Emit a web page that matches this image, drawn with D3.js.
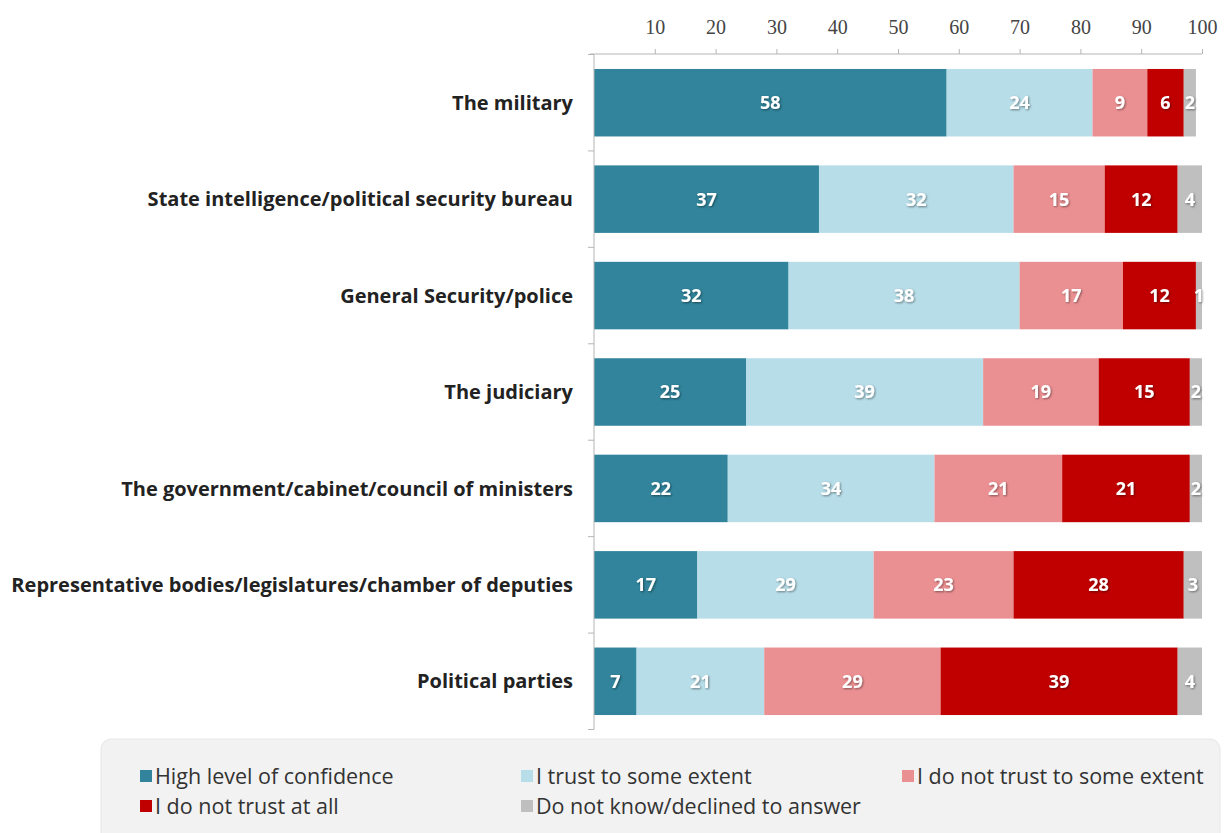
<!DOCTYPE html>
<html>
<head>
<meta charset="utf-8">
<script src="https://cdn.jsdelivr.net/npm/d3@7"></script>
<style>
  html, body { margin: 0; padding: 0; background: #fff; }
  svg { display: block; }
</style>
</head>
<body>
<svg id="chart" width="1231" height="833"></svg>
<script>
// Institutions, top to bottom
const categories = [
  "The military",
  "State intelligence/political security bureau",
  "General Security/police",
  "The judiciary",
  "The government/cabinet/council of ministers",
  "Representative bodies/legislatures/chamber of deputies",
  "Political parties"
];

// Response shares (%) per institution, in category order
const highConfidence   = [58, 37, 32, 25, 22, 17, 7];
const trustSomeExtent  = [24, 32, 38, 39, 34, 29, 21];
const distrustSome     = [9, 15, 17, 19, 21, 23, 29];
const distrustAtAll    = [6, 12, 12, 15, 21, 28, 39];
const dontKnow         = [2, 4, 1, 2, 2, 3, 4];

const seriesNames = [
  "High level of confidence",
  "I trust to some extent",
  "I do not trust to some extent",
  "I do not trust at all",
  "Do not know/declined to answer"
];
const seriesValues = [highConfidence, trustSomeExtent, distrustSome, distrustAtAll, dontKnow];
const seriesColors = ["#31849b", "#b7dde8", "#eb9092", "#c00000", "#bfbfbf"];

const tickValues = [10, 20, 30, 40, 50, 60, 70, 80, 90, 100];

const svg = d3.select("#chart");

const defs = svg.append("defs");
const shadow = defs.append("filter").attr("id", "lblShadow")
  .attr("x", "-20%").attr("y", "-20%").attr("width", "140%").attr("height", "140%");
shadow.append("feDropShadow")
  .attr("dx", 1).attr("dy", 1).attr("stdDeviation", 0.8)
  .attr("flood-color", "#000").attr("flood-opacity", 0.45);

const x = d3.scaleLinear().domain([0, 100]).range([594, 1202]);
const y = d3.scaleBand().domain(categories).range([54.5, 729.5])
  .paddingInner(0.3).paddingOuter(0.15);

// Stack rows
const rows = categories.map((c, i) => {
  const r = { category: c };
  seriesNames.forEach((s, k) => { r[s] = seriesValues[k][i]; });
  return r;
});
const stacked = d3.stack().keys(seriesNames)(rows);

// Bars
const layers = svg.append("g").selectAll("g")
  .data(stacked).join("g")
  .attr("fill", (d, k) => seriesColors[k]);

layers.selectAll("rect")
  .data(d => d.map(p => ({ p, key: d.key })))
  .join("rect")
  .attr("x", d => x(d.p[0]))
  .attr("y", d => y(d.p.data.category))
  .attr("width", d => x(d.p[1]) - x(d.p[0]))
  .attr("height", y.bandwidth());

// Value labels
const labels = svg.append("g")
  .attr("font-family", "'Open Sans', sans-serif")
  .attr("font-weight", 700)
  .attr("font-size", 18)
  .attr("fill", "#fff")
  .attr("text-anchor", "middle")
  .attr("filter", "url(#lblShadow)");

stacked.forEach(layer => {
  layer.forEach(p => {
    labels.append("text")
      .attr("x", x((p[0] + p[1]) / 2))
      .attr("y", y(p.data.category) + y.bandwidth() / 2)
      .attr("dy", "0.36em")
      .text(p[1] - p[0]);
  });
});

// Top axis
const xAxis = d3.axisTop(x).tickValues(tickValues).tickSize(5).tickPadding(15);
const gx = svg.append("g").attr("transform", "translate(0,54)").call(xAxis);
gx.select(".domain").attr("stroke", "#b5b5b5").attr("d", "M590,0H1202");
gx.selectAll(".tick line").attr("stroke", "#b5b5b5");
gx.selectAll(".tick text")
  .attr("font-family", "'Liberation Serif', serif")
  .attr("font-size", 20)
  .attr("fill", "#444");

// Left axis with tick marks at band boundaries
const gy = svg.append("g");
gy.append("line")
  .attr("x1", x(0)).attr("x2", x(0))
  .attr("y1", y.range()[0]).attr("y2", y.range()[1])
  .attr("stroke", "#b5b5b5");
const boundaries = d3.range(categories.length + 1).map(i => y.range()[0] + i * y.step());
gy.selectAll("line.b").data(boundaries).join("line")
  .attr("class", "b")
  .attr("x1", x(0) - 6).attr("x2", x(0))
  .attr("y1", d => d).attr("y2", d => d)
  .attr("stroke", "#b5b5b5");

// Category labels
svg.append("g")
  .attr("font-family", "'Open Sans', sans-serif")
  .attr("font-weight", 700)
  .attr("font-size", 20)
  .attr("fill", "#222")
  .attr("text-anchor", "end")
  .selectAll("text").data(categories).join("text")
  .attr("x", 573)
  .attr("y", d => y(d) + y.bandwidth() / 2)
  .attr("dy", "0.36em")
  .text(d => d);

// Legend
const legend = svg.append("g");
legend.append("rect")
  .attr("x", 101).attr("y", 739).attr("width", 1119).attr("height", 110)
  .attr("rx", 10).attr("fill", "#f2f2f2").attr("stroke", "#e6e6e6");

const legendCols = [140, 521, 902];
const legendRows = [776, 806];
seriesNames.forEach((s, k) => {
  const col = legendCols[k % 3];
  const row = legendRows[Math.floor(k / 3)];
  const item = legend.append("g").attr("transform", `translate(${col},${row})`);
  item.append("rect").attr("x", 0).attr("y", -6).attr("width", 12).attr("height", 12)
    .attr("fill", seriesColors[k]);
  item.append("text")
    .attr("x", 15).attr("y", 0).attr("dy", "0.35em")
    .attr("font-family", "'Open Sans', sans-serif")
    .attr("font-size", 21.5)
    .attr("fill", "#333")
    .text(s);
});
</script>
</body>
</html>
